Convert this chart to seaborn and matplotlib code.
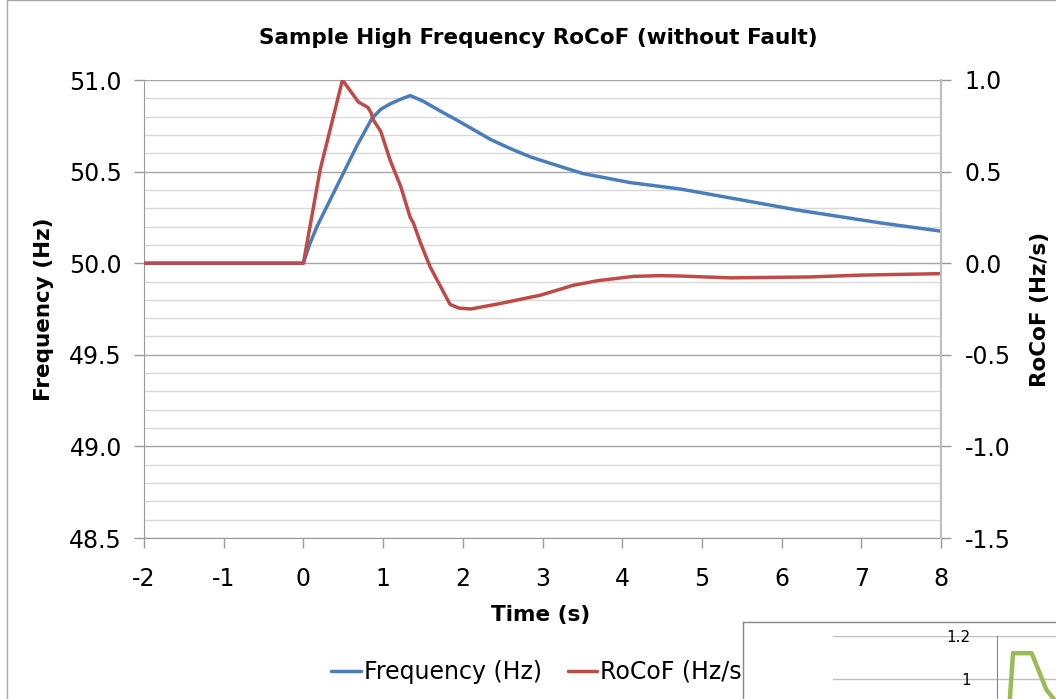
import matplotlib
matplotlib.use("Agg")
import matplotlib.pyplot as plt
import seaborn as sns
from matplotlib.lines import Line2D
from matplotlib.patches import Rectangle
from matplotlib.ticker import MultipleLocator, FixedLocator, FormatStrFormatter, FuncFormatter

# ---------------- data ----------------
title = "Sample High Frequency RoCoF (without Fault)"
x_label = "Time (s)"
y_label_left = "Frequency (Hz)"
y_label_right = "RoCoF (Hz/s)"
series_names = ["Frequency (Hz)", "RoCoF (Hz/s)"]

time_freq = [-2.0, 0.0, 0.08, 0.17, 0.42, 0.67, 0.86, 0.97, 1.09, 1.22, 1.34, 1.5,
             1.72, 1.93, 2.15, 2.35, 2.6, 2.85, 3.1, 3.5, 4.1, 4.73, 5.5, 6.2, 7.24, 8.0]
freq_hz = [50.0, 50.0, 50.105, 50.20, 50.42, 50.64, 50.79, 50.84, 50.87, 50.895, 50.915, 50.885,
           50.83, 50.78, 50.725, 50.675, 50.625, 50.58, 50.545, 50.49, 50.44, 50.405,
           50.345, 50.29, 50.22, 50.175]

time_rocof = [-2.0, 0.0, 0.21, 0.49, 0.69, 0.81, 0.85, 0.88, 0.97, 1.09, 1.22, 1.34,
              1.38, 1.47, 1.59, 1.84, 1.95, 2.1, 2.47, 2.97, 3.39, 3.7, 4.14, 4.48,
              4.73, 5.36, 6.36, 7.0, 8.0]
rocof_hz_s = [0.0, 0.0, 0.51, 1.0, 0.88, 0.85, 0.82, 0.78, 0.72, 0.56, 0.42, 0.25,
              0.22, 0.11, -0.02, -0.225, -0.245, -0.25, -0.22, -0.175, -0.12, -0.095,
              -0.072, -0.068, -0.07, -0.08, -0.075, -0.065, -0.057]

x_ticks = [-2, -1, 0, 1, 2, 3, 4, 5, 6, 7, 8]
left_ticks = [48.5, 49.0, 49.5, 50.0, 50.5, 51.0]
right_ticks = [-1.5, -1.0, -0.5, 0.0, 0.5, 1.0]

# fragment of another chart overlapping the bottom-right corner
inset_ticks = [1.0, 1.2]
inset_x = [0.45, 0.6, 1.3, 1.85, 2.3]
inset_y = [0.85, 1.12, 1.12, 0.95, 0.88]

# ---------------- style ----------------
sns.set_style("white")
plt.rcParams['font.family'] = ['DejaVu Sans']
plt.rcParams['axes.unicode_minus'] = False
plt.rcParams['text.color'] = "black"
plt.rcParams['axes.labelcolor'] = "black"
plt.rcParams['xtick.color'] = "black"
plt.rcParams['ytick.color'] = "black"

BLUE = "#4A7EBB"
RED = "#BE4B48"
GREEN = "#9BBB59"
AXIS_GRAY = "#9A9A9A"
MAJOR_GRID = "#A6A6A6"
MINOR_GRID = "#D9D9D9"

W, H = 1056, 699
fig = plt.figure(figsize=(W / 100, H / 100), dpi=100)


def fx(px):
    return px / W


def fy(py):
    return 1 - py / H


# outer chart border
fig.patches.append(Rectangle((fx(7), fy(760)), 1.2, fy(0.5) - fy(760),
                             transform=fig.transFigure, fill=False,
                             edgecolor="#A6A6A6", lw=1.0, zorder=0))

ax = fig.add_axes([fx(144), fy(538), fx(941) - fx(144), fy(80) - fy(538)])
ax.set_facecolor("none")
ax2 = ax.twinx()

sns.lineplot(x=time_freq, y=freq_hz, ax=ax, color=BLUE, lw=2.5, legend=False,
             sort=False, solid_joinstyle="round", solid_capstyle="round")
sns.lineplot(x=time_rocof, y=rocof_hz_s, ax=ax2, color=RED, lw=2.5, legend=False,
             sort=False, solid_joinstyle="round", solid_capstyle="round")

ax.set_xlim(-2, 8)
ax.set_ylim(48.5, 51.0)
ax2.set_ylim(-1.5, 1.0)

ax.xaxis.set_major_locator(FixedLocator(x_ticks))
ax.yaxis.set_major_locator(FixedLocator(left_ticks))
ax.yaxis.set_minor_locator(MultipleLocator(0.1))
ax.yaxis.set_major_formatter(FormatStrFormatter("%.1f"))
ax2.yaxis.set_major_locator(FixedLocator(right_ticks))
ax2.yaxis.set_major_formatter(FormatStrFormatter("%.1f"))
ax.xaxis.set_major_formatter(FormatStrFormatter("%d"))

ax.grid(False)
ax2.grid(False)
ax.yaxis.grid(True, which="minor", color=MINOR_GRID, lw=1.0)
ax.yaxis.grid(True, which="major", color=MAJOR_GRID, lw=1.0)
ax.set_axisbelow(True)

for a in (ax, ax2):
    for s in a.spines.values():
        s.set_visible(False)
ax.spines["left"].set_visible(True)
ax.spines["left"].set_color(AXIS_GRAY)
ax.spines["bottom"].set_visible(True)
ax.spines["bottom"].set_color(AXIS_GRAY)
ax2.spines["right"].set_visible(True)
ax2.spines["right"].set_color("#BFBFBF")
ax2.spines["right"].set_linewidth(1.5)

ax.tick_params(axis="both", which="major", direction="out", length=7, width=1,
               color=AXIS_GRAY, labelsize=17, labelcolor="black")
ax.tick_params(axis="y", which="major", pad=9, left=True)
ax.tick_params(axis="x", which="major", pad=14, bottom=True)
ax.tick_params(axis="y", which="minor", left=False)
ax2.tick_params(axis="y", which="major", direction="out", length=7, width=1,
                color=AXIS_GRAY, labelsize=17, pad=10, right=True, labelcolor="black")

ax.set_xlabel("")
ax.set_ylabel("")
ax2.set_ylabel("")

fig.text(fx(538), fy(38), title, ha="center", va="center", fontsize=15.5,
         fontweight="bold", color="black")
fig.text(fx(541), fy(615), x_label, ha="center", va="center", fontsize=15.5,
         fontweight="bold", color="black")
fig.text(fx(44), fy(309), y_label_left, ha="center", va="center", rotation=90,
         fontsize=15.5, fontweight="bold", color="black")
fig.text(fx(1040), fy(309), y_label_right, ha="center", va="center", rotation=90,
         fontsize=15.5, fontweight="bold", color="black")

handles = [Line2D([0], [0], color=BLUE, lw=2.5), Line2D([0], [0], color=RED, lw=2.5)]
leg = fig.legend(handles, series_names, loc="center", bbox_to_anchor=(fx(541), fy(672)),
                 ncol=2, frameon=False, fontsize=17, handlelength=1.25, handletextpad=0.12,
                 columnspacing=1.1)
for t in leg.get_texts():
    t.set_color("black")

# ---------------- overlapping chart fragment ----------------
box = fig.add_axes([fx(743), fy(760), 0.5, fy(622) - fy(760)])
box.set_zorder(10)
box.set_facecolor("white")
box.set_xticks([])
box.set_yticks([])
for s in box.spines.values():
    s.set_color("#868686")
    s.set_linewidth(1.0)

ax_in = fig.add_axes([fx(833), fy(699), fx(1100) - fx(833), fy(636) - fy(699)])
ax_in.set_zorder(11)
ax_in.set_facecolor("none")
sns.lineplot(x=inset_x, y=inset_y, ax=ax_in, color=GREEN, lw=3.2, legend=False, sort=False)
ax_in.set_xlim(-(997 - 833) / 26.7, (1100 - 997) / 26.7)
ax_in.set_ylim(0.907, 1.2)
ax_in.yaxis.set_major_locator(FixedLocator(inset_ticks))
ax_in.yaxis.set_major_formatter(FuncFormatter(lambda v, p: f"{v:g}"))
ax_in.set_xticks([])
ax_in.grid(False)
ax_in.yaxis.grid(True, color="#BFBFBF", lw=1.0)
for s in ax_in.spines.values():
    s.set_visible(False)
ax_in.spines["left"].set_visible(True)
ax_in.spines["left"].set_position(("data", 0))
ax_in.spines["left"].set_color("#868686")
ax_in.tick_params(axis="y", length=0, pad=19, labelsize=11, labelcolor="black")
ax_in.set_xlabel("")
ax_in.set_ylabel("")

fig.savefig("out.png", dpi=100)
